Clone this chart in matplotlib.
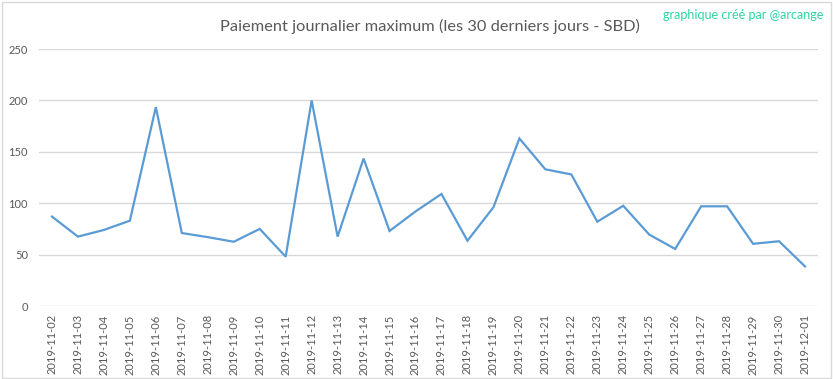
import matplotlib.pyplot as plt
from matplotlib.patches import Rectangle

# dati
dates = ['2019-11-02', '2019-11-03', '2019-11-04', '2019-11-05', '2019-11-06',
         '2019-11-07', '2019-11-08', '2019-11-09', '2019-11-10', '2019-11-11',
         '2019-11-12', '2019-11-13', '2019-11-14', '2019-11-15', '2019-11-16',
         '2019-11-17', '2019-11-18', '2019-11-19', '2019-11-20', '2019-11-21',
         '2019-11-22', '2019-11-23', '2019-11-24', '2019-11-25', '2019-11-26',
         '2019-11-27', '2019-11-28', '2019-11-29', '2019-11-30', '2019-12-01']
payout = [87, 67.5, 74, 83, 193.5, 71, 67, 62.5, 75, 48,
          200, 67.5, 143.5, 73, 92, 109, 63.5, 96, 163, 133,
          128, 82, 97.5, 69.5, 55.5, 97, 97, 60.5, 63, 38.5]
yticks = [0, 50, 100, 150, 200, 250]

grey = '#595959'
plt.rcParams['font.family'] = ['Lato', 'DejaVu Sans']

fig = plt.figure(figsize=(8.33, 3.79), dpi=100)
ax = fig.add_axes([0.0468, 0.1926, 0.9352, 0.678])

x = range(len(dates))
ax.plot(x, payout, color='#5b9bd5', linewidth=1.6, solid_joinstyle='miter')

ax.set_xlim(-0.5, len(dates) - 0.5)
ax.set_ylim(0, 250)
ax.set_yticks(yticks)
ax.set_xticks(list(x))
ax.set_xticklabels(dates, rotation=90)
ax.tick_params(length=0, colors=grey, labelsize=8)
ax.tick_params(axis='y', pad=8)
ax.tick_params(axis='x', pad=6)
ax.grid(axis='y', color='#d9d9d9', linewidth=1)
ax.set_axisbelow(True)
for s in ax.spines.values():
    s.set_visible(False)

fig.text(0.516, 0.93, 'Paiement journalier maximum (les 30 derniers jours - SBD)',
         ha='center', va='center', fontsize=11.8, color=grey)
fig.text(0.988, 0.96, 'graphique créé par @arcange', ha='right', va='center',
         fontsize=9, color='#2ed3a0')

# bordo esterno
fig.patches.append(Rectangle((0.002, 0.003), 0.995, 0.992, transform=fig.transFigure,
                             fill=False, edgecolor='#d9d9d9', linewidth=1))

fig.savefig('out.png', dpi=100)
